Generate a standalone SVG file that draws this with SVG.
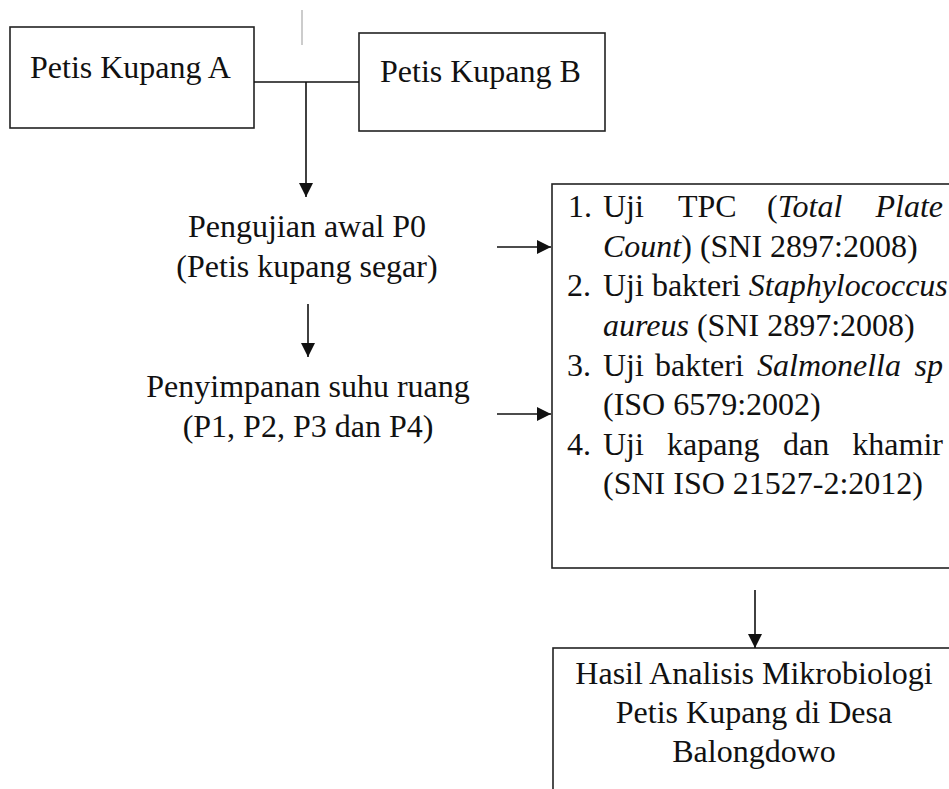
<svg xmlns="http://www.w3.org/2000/svg" width="949" height="789" viewBox="0 0 949 789">
<defs>
<marker id="arr" viewBox="0 0 14 14" refX="14" refY="7" markerWidth="14" markerHeight="14" markerUnits="userSpaceOnUse" orient="auto">
<path d="M0,0 L14,7 L0,14 Z" fill="#111"/>
</marker>
<style>
text{font-family:"Liberation Serif","Times New Roman",serif;font-size:32px;fill:#111}
.c{text-anchor:middle}
.e{text-anchor:end}
.i{font-style:italic}
.box{fill:none;stroke:#222;stroke-width:1.6}
.ln{fill:none;stroke:#111;stroke-width:1.6}
</style>
</defs>
<rect width="949" height="789" fill="#fff"/>
<line x1="302" y1="10" x2="302" y2="45" stroke="#aaa" stroke-width="1.2"/>
<g id="nodeA">
<rect class="box" x="10" y="27" width="244" height="101"/>
<text x="30" y="78">Petis Kupang A</text>
</g>
<g id="nodeB">
<rect class="box" x="359" y="33" width="246" height="98"/>
<text x="380" y="82">Petis Kupang B</text>
</g>
<g id="nodeP0">
<text class="c" x="307" y="237">Pengujian awal P0</text>
<text class="c" x="307" y="277">(Petis kupang segar)</text>
</g>
<g id="nodeStore">
<text class="c" x="308" y="397">Penyimpanan suhu ruang</text>
<text class="c" x="308" y="437">(P1, P2, P3 dan P4)</text>
</g>
<g id="nodeTests">
<rect class="box" x="552" y="184" width="430" height="384"/>
<text y="217"><tspan x="568">1.</tspan><tspan x="603">Uji</tspan><tspan x="678">TPC</tspan><tspan x="767">(<tspan class="i">Total</tspan></tspan></text>
<text y="217" x="943" class="e i">Plate</text>
<text y="257"><tspan x="603" class="i">Count</tspan>) (SNI 2897:2008)</text>
<text y="296"><tspan x="567">2.</tspan><tspan x="603">Uji bakteri </tspan><tspan class="i">Staphylococcus</tspan></text>
<text y="336"><tspan x="603" class="i">aureus</tspan> (SNI 2897:2008)</text>
<text y="376"><tspan x="567">3.</tspan><tspan x="603">Uji</tspan><tspan x="655">bakteri</tspan><tspan x="757" class="i">Salmonella</tspan></text>
<text y="376" x="943" class="e i">sp</text>
<text y="415"><tspan x="603">(ISO 6579:2002)</tspan></text>
<text y="455"><tspan x="567">4.</tspan><tspan x="603">Uji</tspan><tspan x="667">kapang</tspan><tspan x="783">dan</tspan></text>
<text y="455" x="943" class="e">khamir</text>
<text y="494"><tspan x="603">(SNI ISO 21527-2:2012)</tspan></text>
</g>
<g id="nodeResult">
<rect class="box" x="553" y="648" width="402" height="200"/>
<text class="c" x="754" y="684">Hasil Analisis Mikrobiologi</text>
<text class="c" x="754" y="723">Petis Kupang di Desa</text>
<text class="c" x="754" y="762">Balongdowo</text>
</g>
<g id="connectors">
<line class="ln" x1="254" y1="82" x2="359" y2="82"/>
<line class="ln" x1="306" y1="82" x2="306" y2="197" marker-end="url(#arr)"/>
<line class="ln" x1="308" y1="304" x2="308" y2="357" marker-end="url(#arr)"/>
<line class="ln" x1="497" y1="247" x2="551" y2="247" marker-end="url(#arr)"/>
<line class="ln" x1="497" y1="414" x2="551" y2="414" marker-end="url(#arr)"/>
<line class="ln" x1="755" y1="590" x2="755" y2="648" marker-end="url(#arr)"/>
</g>
</svg>
